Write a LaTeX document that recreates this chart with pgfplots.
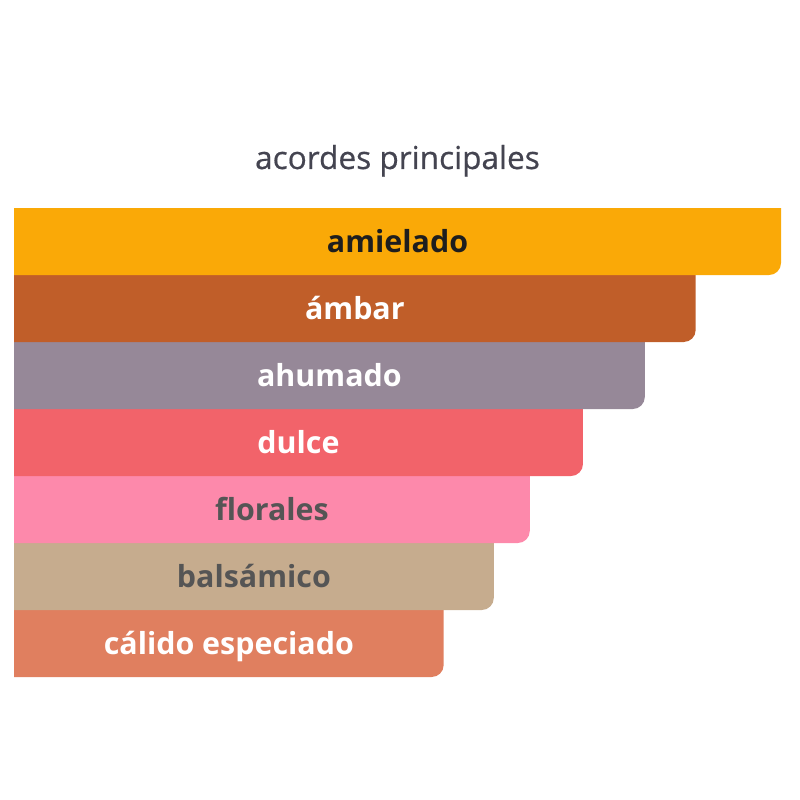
\documentclass[border=0pt]{standalone}
\usepackage{pgfplots}
\pgfplotsset{compat=1.18}
\usepackage{fontspec}
\setmainfont{Open Sans}
\newfontfamily\titlefont[FakeBold=0.6]{Open Sans}

\definecolor{cAmielado}{HTML}{FAA907}
\definecolor{cAmbar}{HTML}{C05E29}
\definecolor{cAhumado}{HTML}{968898}
\definecolor{cDulce}{HTML}{F2636A}
\definecolor{cFlorales}{HTML}{FD89AB}
\definecolor{cBalsamico}{HTML}{C6AC8E}
\definecolor{cCalido}{HTML}{E07F5F}
\definecolor{cTitle}{HTML}{444450}
\definecolor{cDark}{HTML}{1E1E1E}
\definecolor{cGrey}{HTML}{555555}

% one bar: value, row; drawn from the bottom row upward so that each
% bar hides the square top of the one below
\pgfplotsset{
  acorde/.style={
    xbar, fill=#1, draw=none,
    bar width=1.3, bar shift=-0.15,
    rounded corners=6bp,
  },
}
\tikzset{
  etiqueta/.style={font=\bfseries\fontsize{15.2bp}{18bp}\selectfont,
    anchor=base, text=#1},
}

\begin{document}
\begin{tikzpicture}
\path[use as bounding box] (0,0) rectangle (400bp,400bp);
% the bars start left of the visible edge: hide their left corners
\clip (7bp,0) rectangle (400bp,400bp);
\begin{axis}[
  at={(-0.83bp,61.5bp)}, anchor=south west,
  scale only axis, width=391.33bp, height=234.5bp,
  hide axis,
  xmin=0, xmax=100,
  ymin=-0.5, ymax=6.5, y dir=reverse,
]
\addplot[acorde=cCalido]    coordinates {(56.9,6)};
\addplot[acorde=cBalsamico] coordinates {(63.3,5)};
\addplot[acorde=cFlorales]  coordinates {(67.9,4)};
\addplot[acorde=cDulce]     coordinates {(74.7,3)};
\addplot[acorde=cAhumado]   coordinates {(82.6,2)};
\addplot[acorde=cAmbar]     coordinates {(89.1,1)};
\addplot[acorde=cAmielado]  coordinates {(100,0)};

\node[etiqueta=cDark]  at (axis cs:51,0.17)   {amielado};
\node[etiqueta=white]  at (axis cs:45.55,1.17) {ámbar};
\node[etiqueta=white]  at (axis cs:42.3,2.17)  {ahumado};
\node[etiqueta=white]  at (axis cs:38.35,3.17) {dulce};
\node[etiqueta=cGrey]  at (axis cs:34.95,4.17) {florales};
\node[etiqueta=cGrey]  at (axis cs:32.65,5.17) {balsámico};
\node[etiqueta=white]  at (axis cs:29.45,6.17) {cálido especiado};
\end{axis}
\node[anchor=base, text=cTitle, font=\titlefont\fontsize{15.8bp}{19bp}\selectfont]
  at (198.75bp,315.5bp) {acordes principales};
\end{tikzpicture}
\end{document}
